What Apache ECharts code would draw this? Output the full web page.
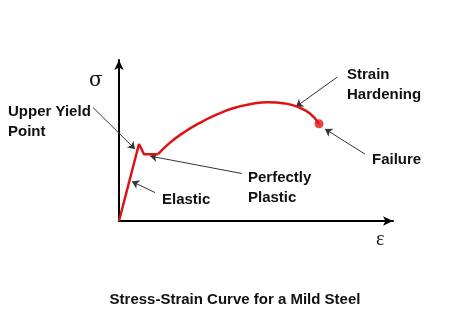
<!DOCTYPE html>
<html><head><meta charset="utf-8">
<script src="https://cdn.jsdelivr.net/npm/echarts@6/dist/echarts.min.js"></script>
<style>html,body{margin:0;padding:0;background:#fff}#c{width:470px;height:313px}</style>
</head><body><div id="c"></div>
<script>
// Strain (arbitrary units, 0..0.5) and stress (0..600)
const elasticStrain = [0, 0.0365, 0.0456, 0.0712];
const elasticStress = [0, 287, 249, 249];
const hardeningStrain = [0.0712, 0.0931, 0.1168, 0.1478, 0.1788, 0.208, 0.239, 0.272, 0.303, 0.325, 0.349, 0.365];
const hardeningStress = [249, 292, 328, 366, 397, 420, 435, 443, 438, 426, 400, 362];
const failurePoint = [0.365, 362];
// annotation arrows: [fromStrain, fromStress, toStrain, toStress]
const arrowUpperYield = [-0.0474, 423, 0.0292, 268];
const arrowElastic = [0.0657, 106, 0.0237, 147];
const arrowPlastic = [0.224, 177, 0.0566, 242];
const arrowHardening = [0.398, 536, 0.323, 426];
const arrowFailure = [0.449, 249, 0.376, 343];
const labels = ['Upper Yield\nPoint', 'Elastic', 'Perfectly\nPlastic', 'Strain\nHardening', 'Failure'];
const titleText = 'Stress-Strain Curve for a Mild Steel';

const zip = (a, b) => a.map((v, i) => [v, b[i]]);
const arrow = a => ({coords: [[a[0], a[1]], [a[2], a[3]]]});

const chart = echarts.init(document.getElementById('c'));
const font = '"Liberation Sans", Arial, sans-serif';
const txt = (x, y, t) => ({type: 'text', left: x, top: y, style: {text: t, font: 'bold 15px ' + font, fill: '#111', lineHeight: 20}});
chart.setOption({
  animation: false,
  grid: {left: 119, right: 77, top: 60, bottom: 92},
  xAxis: {type: 'value', min: 0, max: 0.5, axisLabel: {show: false}, axisTick: {show: false}, splitLine: {show: false},
    axisLine: {lineStyle: {color: '#000', width: 2}, symbol: ['none', 'arrow'], symbolSize: [7, 10]}},
  yAxis: {type: 'value', min: 0, max: 600, axisLabel: {show: false}, axisTick: {show: false}, splitLine: {show: false},
    axisLine: {lineStyle: {color: '#000', width: 2}, symbol: ['none', 'arrow'], symbolSize: [7, 10]}},
  series: [
    {type: 'line', data: zip(elasticStrain, elasticStress), symbol: 'none', clip: false,
      lineStyle: {color: '#dc1414', width: 2.5}},
    {type: 'line', data: zip(hardeningStrain, hardeningStress), symbol: 'none', smooth: 0.5, clip: false,
      lineStyle: {color: '#dc1414', width: 2.5}},
    {type: 'scatter', data: [failurePoint], symbolSize: 9, itemStyle: {color: '#e81010'}},
    {type: 'lines', coordinateSystem: 'cartesian2d', silent: true, clip: false, symbol: ['none', 'arrow'], symbolSize: 7,
      lineStyle: {color: '#333', width: 1, opacity: 1},
      data: [arrow(arrowUpperYield), arrow(arrowElastic), arrow(arrowPlastic), arrow(arrowHardening), arrow(arrowFailure)]}
  ],
  graphic: [
    txt(8, 102, labels[0]),
    txt(162, 190, labels[1]),
    txt(248, 168, labels[2]),
    txt(347, 65, labels[3]),
    txt(372, 150, labels[4]),
    {type: 'text', left: 89, top: 71, style: {text: 'σ', font: '20px "DejaVu Serif", "Liberation Serif", serif', fill: '#111'}},
    {type: 'text', left: 376, top: 230, style: {text: 'ε', font: '20px "Liberation Serif", "DejaVu Serif", serif', fill: '#111'}},
    {type: 'text', left: 'center', top: 292, style: {text: titleText, font: 'bold 15px ' + font, fill: '#111'}}
  ]
});
</script></body></html>
